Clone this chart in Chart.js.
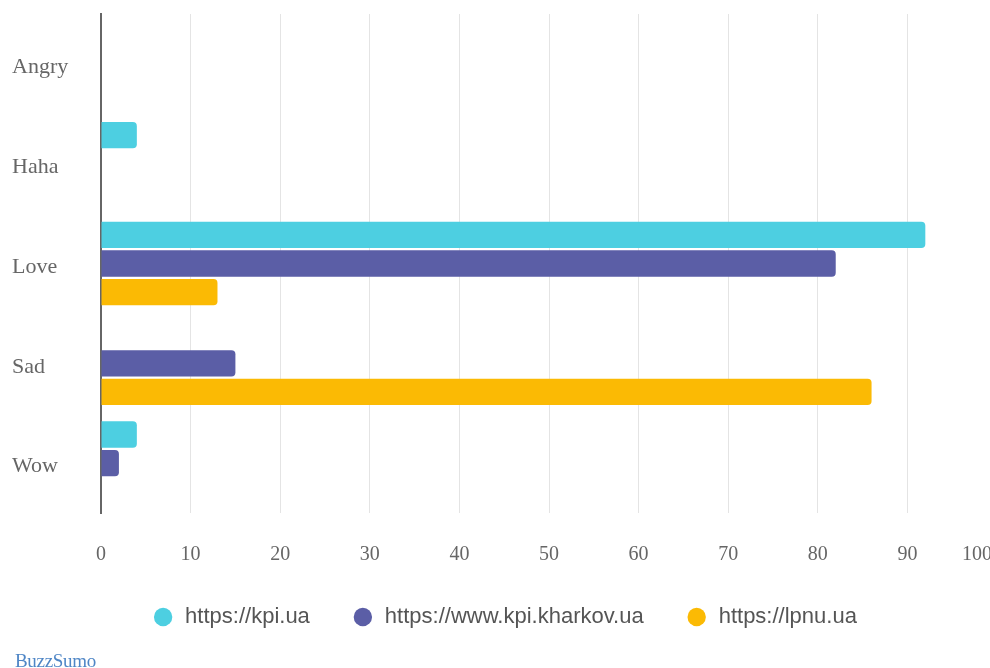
<!DOCTYPE html>
<html>
<head>
<meta charset="utf-8">
<title>Reactions by site</title>
<script src="https://cdn.jsdelivr.net/npm/chart.js@4.4.1/dist/chart.umd.min.js"></script>
<style>
  html, body { margin: 0; padding: 0; background: #fff; overflow: hidden; }
  #wrap { position: relative; width: 1010px; height: 668px; }
  #brand {
    position: absolute; left: 15px; top: 650px;
    font: 19px "Liberation Serif", "Times New Roman", serif;
    color: #4f86c6; letter-spacing: -0.3px;
  }
</style>
</head>
<body>
<div id="wrap">
  <canvas id="chart"></canvas>
  <div id="brand">BuzzSumo</div>
</div>
<script>
// Reaction categories on the vertical axis
const reactions = ['Angry', 'Haha', 'Love', 'Sad', 'Wow'];

// Reaction counts per site (null = no reactions of that type)
const kpiUa      = [null, 4, 92, null, 4];
const kpiKharkov = [null, null, 82, 15, 2];
const lpnuUa     = [null, null, 13, 86, null];

// Horizontal axis ticks
const xTicks = [0, 10, 20, 30, 40, 50, 60, 70, 80, 90, 100];

const siteNames = ['https://kpi.ua', 'https://www.kpi.kharkov.ua', 'https://lpnu.ua'];
const siteColors = ['#4dcfe1', '#5b5ea6', '#fbba04'];

const serif = '"Liberation Serif", "Times New Roman", serif';
const sans = '"Liberation Sans", Arial, sans-serif';

const series = [kpiUa, kpiKharkov, lpnuUa];

new Chart(document.getElementById('chart'), {
  type: 'bar',
  data: {
    labels: reactions,
    datasets: series.map((values, i) => ({
      label: siteNames[i],
      data: values,
      backgroundColor: siteColors[i],
      borderRadius: 4,
      borderSkipped: 'start',
      categoryPercentage: 0.86,
      barPercentage: 0.92
    }))
  },
  options: {
    indexAxis: 'y',
    responsive: true,
    maintainAspectRatio: false,
    animation: false,
    layout: { padding: { left: 12, top: 14, right: 13, bottom: 30 } },
    scales: {
      x: {
        min: 0,
        max: 100,
        afterBuildTicks: (axis) => { axis.ticks = xTicks.map(v => ({ value: v })); },
        afterFit: (axis) => {
          // the last tick label is allowed to run past the edge
          axis.height = 51;
          axis.paddingLeft = 0;
          axis.paddingRight = 0;
        },
        grid: { color: '#e4e4e4', lineWidth: 1, drawTicks: false },
        border: { display: false },
        ticks: {
          padding: 30,
          color: '#666',
          font: { family: serif, size: 20 },
          // pull the final label in a little from the edge
          callback: (v) => (v === xTicks[xTicks.length - 1] ? v + '\u2003\u2003' : String(v))
        }
      },
      y: {
        grid: { display: false, drawTicks: false },
        border: { display: true, color: '#666', width: 2 },
        afterFit: (axis) => { axis.width = 89; },
        ticks: {
          crossAlign: 'far',
          color: '#666',
          font: { family: serif, size: 22, lineHeight: '7px' },
          // empty first line nudges the category name slightly down
          callback: (v, i) => ['', reactions[i]]
        }
      }
    },
    plugins: {
      tooltip: { enabled: false },
      legend: {
        position: 'bottom',
        labels: {
          usePointStyle: true,
          pointStyle: 'circle',
          boxWidth: 22,
          boxHeight: 13,
          padding: 42,
          color: '#555',
          font: { family: sans, size: 22 }
        }
      }
    }
  }
});
</script>
</body>
</html>
